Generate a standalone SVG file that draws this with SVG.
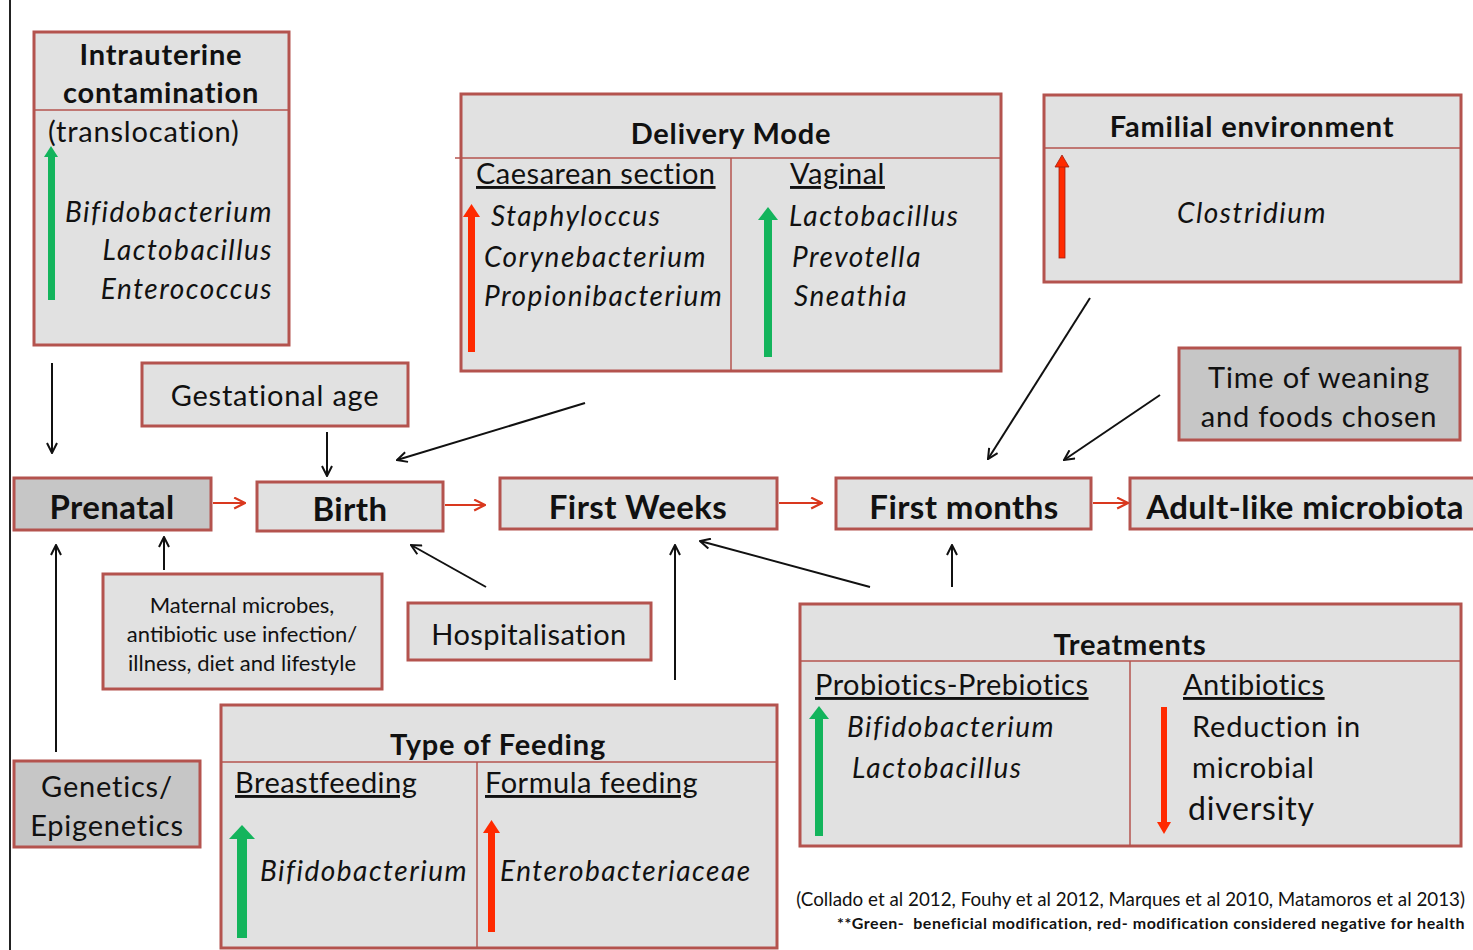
<svg xmlns="http://www.w3.org/2000/svg" width="1473" height="950" viewBox="0 0 1473 950">
<defs>
<style>
text{font-family:Lato,"Open Sans","Liberation Sans",sans-serif;fill:#111}
.box{fill:#e1e1e1;stroke:#b4534e;stroke-width:3}
.dark{fill:#c6c6c6;stroke:#b4534e;stroke-width:3}
.div{stroke:#b4534e;stroke-width:1.5;fill:none}
.t{font-weight:bold;font-size:29px;letter-spacing:0.8px;text-anchor:middle}
.big{font-weight:bold;font-size:33px;letter-spacing:0.4px;text-anchor:middle}
.it{font-style:italic;font-size:28px;letter-spacing:1.5px}
.n{font-size:29px;letter-spacing:0.8px}
.u{font-size:29px;letter-spacing:0.5px;text-decoration:underline}
.c{stroke:#111;stroke-width:2;fill:none}
.r{stroke:#d9381e;stroke-width:2;fill:none}
.g{fill:#13b45c}
.rd{fill:#ff2a00}
</style>
<marker id="ab" viewBox="0 0 12 12" refX="11" refY="6" markerWidth="12" markerHeight="12" markerUnits="userSpaceOnUse" orient="auto"><path d="M1,1 L11,6 L1,11" fill="none" stroke="#111" stroke-width="2"/></marker>
<marker id="ar" viewBox="0 0 12 12" refX="11" refY="6" markerWidth="13" markerHeight="13" markerUnits="userSpaceOnUse" orient="auto"><path d="M1,1 L11,6 L1,11" fill="none" stroke="#d9381e" stroke-width="2"/></marker>
</defs>
<rect width="1473" height="950" fill="#fff"/>
<line x1="10" y1="0" x2="10" y2="950" stroke="#222" stroke-width="2"/>

<g id="intrauterine">
<rect class="box" x="34" y="32" width="255" height="313"/>
<line class="div" x1="34" y1="110" x2="289" y2="110"/>
<text class="t" x="161" y="65">Intrauterine</text>
<text class="t" x="161" y="103">contamination</text>
<text class="n" x="48" y="142">(translocation)</text>
<rect class="g" x="48" y="156" width="7" height="144"/><path class="g" d="M44,157 L51,146 L58,157Z"/>
<text class="it" x="273" y="222" text-anchor="end">Bifidobacterium</text>
<text class="it" x="273" y="260" text-anchor="end">Lactobacillus</text>
<text class="it" x="273" y="299" text-anchor="end">Enterococcus</text>
</g>

<g id="delivery">
<rect class="box" x="461" y="94" width="540" height="277"/>
<line class="div" x1="455" y1="158" x2="1000" y2="158"/>
<line class="div" x1="731" y1="158" x2="731" y2="371"/>
<text class="t" x="731" y="144">Delivery Mode</text>
<text class="u" x="476" y="184">Caesarean section</text>
<text class="u" x="790" y="184">Vaginal</text>
<rect class="rd" x="468" y="216" width="7" height="136"/><path class="rd" d="M463,217 L471.5,204 L480,217Z"/>
<text class="it" x="491" y="226">Staphyloccus</text>
<text class="it" x="484" y="267">Corynebacterium</text>
<text class="it" x="484" y="306">Propionibacterium</text>
<rect class="g" x="764" y="219" width="8" height="138"/><path class="g" d="M758,220 L768,207 L778,220Z"/>
<text class="it" x="789" y="226">Lactobacillus</text>
<text class="it" x="792" y="267">Prevotella</text>
<text class="it" x="794" y="306">Sneathia</text>
</g>

<g id="familial">
<rect class="box" x="1044" y="95" width="417" height="187"/>
<line class="div" x1="1044" y1="148" x2="1461" y2="148"/>
<text class="t" x="1252" y="137">Familial environment</text>
<rect x="1059" y="166" width="6" height="92" fill="#ff2a00" stroke="#a02010" stroke-width="0.8"/><path d="M1055,167 L1062,155 L1069,167Z" fill="#ff2a00" stroke="#a02010" stroke-width="0.8"/>
<text class="it" x="1252" y="223" text-anchor="middle">Clostridium</text>
</g>

<g id="weaning">
<rect class="dark" x="1179" y="348" width="281" height="92"/>
<text class="n" x="1319" y="388" text-anchor="middle">Time of weaning</text>
<text class="n" x="1319" y="427" text-anchor="middle">and foods chosen</text>
</g>

<g id="gestational">
<rect class="box" x="142" y="363" width="266" height="63"/>
<text class="n" x="275" y="406" text-anchor="middle">Gestational age</text>
</g>

<g id="prenatal">
<rect class="dark" x="14" y="478" width="197" height="52"/>
<text class="big" x="112" y="519">Prenatal</text>
</g>
<g id="birth">
<rect class="box" x="257" y="482" width="186" height="49"/>
<text class="big" x="350" y="521">Birth</text>
</g>
<g id="firstweeks">
<rect class="box" x="500" y="478" width="277" height="51"/>
<text class="big" x="638" y="519">First Weeks</text>
</g>
<g id="firstmonths">
<rect class="box" x="836" y="478" width="255" height="51"/>
<text class="big" x="964" y="519">First months</text>
</g>
<g id="adult">
<rect class="box" x="1130" y="478" width="346" height="51"/>
<text class="big" x="1305" y="519">Adult-like microbiota</text>
</g>

<g id="maternal">
<rect class="box" x="103" y="574" width="279" height="115"/>
<text x="242" y="613" text-anchor="middle" font-size="22">Maternal microbes,</text>
<text x="242" y="642" text-anchor="middle" font-size="22">antibiotic use infection/</text>
<text x="242" y="671" text-anchor="middle" font-size="22">illness, diet and lifestyle</text>
</g>

<g id="hospitalisation">
<rect class="box" x="408" y="603" width="243" height="57"/>
<text class="n" x="529" y="645" text-anchor="middle" style="letter-spacing:0.4px">Hospitalisation</text>
</g>

<g id="genetics">
<rect class="dark" x="14" y="761" width="186" height="86"/>
<text class="n" x="107" y="797" text-anchor="middle">Genetics/</text>
<text class="n" x="107" y="836" text-anchor="middle">Epigenetics</text>
</g>

<g id="feeding">
<rect class="box" x="221" y="705" width="556" height="243"/>
<line class="div" x1="221" y1="762" x2="777" y2="762"/>
<line class="div" x1="477" y1="762" x2="477" y2="948"/>
<text class="t" x="498" y="755">Type of Feeding</text>
<text class="u" x="235" y="793">Breastfeeding</text>
<text class="u" x="485" y="793">Formula feeding</text>
<rect class="g" x="237" y="838" width="10" height="100"/><path class="g" d="M229,839 L242,825 L255,839Z"/>
<text class="it" x="260" y="881">Bifidobacterium</text>
<rect class="rd" x="488" y="832" width="7" height="100"/><path class="rd" d="M483,833 L491.5,820 L500,833Z"/>
<text class="it" x="500" y="881">Enterobacteriaceae</text>
</g>

<g id="treatments">
<rect class="box" x="800" y="604" width="661" height="242"/>
<line class="div" x1="800" y1="661" x2="1461" y2="661"/>
<line class="div" x1="1130" y1="661" x2="1130" y2="846"/>
<text class="t" x="1130" y="655">Treatments</text>
<text class="u" x="815" y="695">Probiotics-Prebiotics</text>
<text class="u" x="1183" y="695">Antibiotics</text>
<rect class="g" x="815" y="718" width="8" height="118"/><path class="g" d="M809,719 L819,706 L829,719Z"/>
<text class="it" x="847" y="737">Bifidobacterium</text>
<text class="it" x="852" y="778">Lactobacillus</text>
<rect class="rd" x="1161" y="707" width="6" height="116"/><path class="rd" d="M1157,822 L1164,834 L1171,822Z"/>
<text class="n" x="1192" y="737">Reduction in</text>
<text class="n" x="1192" y="778">microbial</text>
<text x="1188" y="820" font-size="32" letter-spacing="0.8">diversity</text>
</g>

<g id="footer">
<text x="1465" y="906" text-anchor="end" font-size="18.8">(Collado et al 2012, Fouhy et al 2012, Marques et al 2010, Matamoros et al 2013)</text>
<text x="1465" y="929" text-anchor="end" font-size="16" font-weight="bold" letter-spacing="0.55" style="white-space:pre">**Green-  beneficial modification, red- modification considered negative for health</text>
</g>

<g id="connectors">
<line class="c" x1="52" y1="363" x2="52" y2="453" marker-end="url(#ab)"/>
<line class="c" x1="327" y1="432" x2="327" y2="476" marker-end="url(#ab)"/>
<line class="c" x1="585" y1="403" x2="397" y2="460" marker-end="url(#ab)"/>
<line class="c" x1="1090" y1="298" x2="988" y2="459" marker-end="url(#ab)"/>
<line class="c" x1="1160" y1="395" x2="1064" y2="460" marker-end="url(#ab)"/>
<line class="c" x1="56" y1="752" x2="56" y2="545" marker-end="url(#ab)"/>
<line class="c" x1="164" y1="570" x2="164" y2="537" marker-end="url(#ab)"/>
<line class="c" x1="486" y1="587" x2="411" y2="545" marker-end="url(#ab)"/>
<line class="c" x1="675" y1="680" x2="675" y2="545" marker-end="url(#ab)"/>
<line class="c" x1="870" y1="587" x2="700" y2="541" marker-end="url(#ab)"/>
<line class="c" x1="952" y1="587" x2="952" y2="545" marker-end="url(#ab)"/>
<line class="r" x1="213" y1="503" x2="245" y2="503" marker-end="url(#ar)"/>
<line class="r" x1="445" y1="505" x2="485" y2="505" marker-end="url(#ar)"/>
<line class="r" x1="779" y1="503" x2="822" y2="503" marker-end="url(#ar)"/>
<line class="r" x1="1093" y1="503" x2="1128" y2="503" marker-end="url(#ar)"/>
</g>
</svg>
